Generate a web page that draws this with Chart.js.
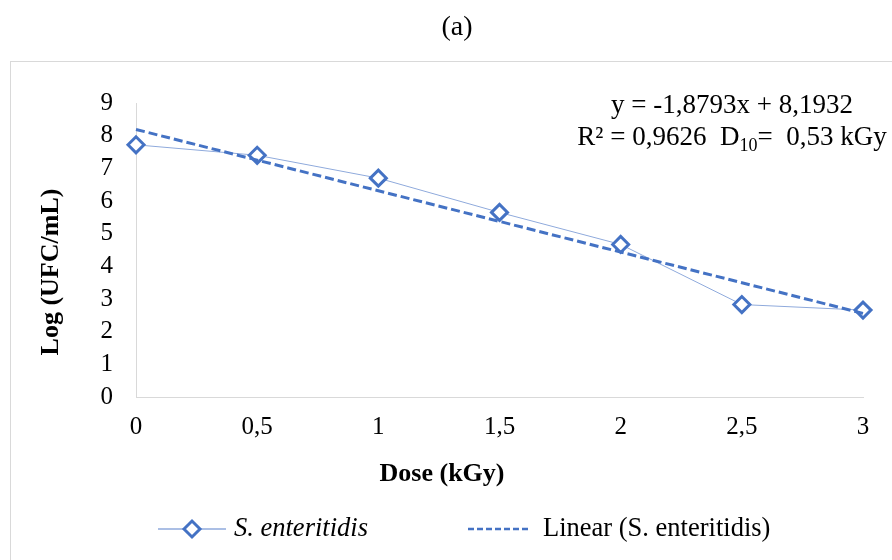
<!DOCTYPE html>
<html>
<head>
<meta charset="utf-8">
<script src="https://cdn.jsdelivr.net/npm/chart.js@4.4.1/dist/chart.umd.min.js"></script>
<style>
  html, body { margin: 0; padding: 0; background: #ffffff; overflow: hidden; }
  #wrap { width: 892px; height: 560px; position: relative; }
</style>
</head>
<body>
<div id="wrap"><canvas id="chart" width="892" height="560"></canvas></div>
<script>
// ---- Data ----
const doses = [0, 0.5, 1, 1.5, 2, 2.5, 3];                 // kGy
const logUfc = [7.72, 7.40, 6.70, 5.65, 4.67, 2.83, 2.66];  // Log (UFC/mL)
const trendDoses = [0, 3];                                  // trendline end points (x)
const trendLog = [8.19, 2.56];                              // trendline end points (y)
const xTickLabels = ['0', '0,5', '1', '1,5', '2', '2,5', '3'];
const yTickValues = [0, 1, 2, 3, 4, 5, 6, 7, 8, 9];
const seriesName = 'S. enteritidis';
const trendName = 'Linear (S. enteritidis)';
const chartTitle = '(a)';
const xTitle = 'Dose (kGy)';
const yTitle = 'Log (UFC/mL)';
const equationLine1 = 'y = -1,8793x + 8,1932';
const equationLine2 = ['R\u00B2 = 0,9626  D', '10', '=  0,53 kGy'];

const SERIF = "'Liberation Serif', 'Times New Roman', serif";
const MARKER = '#4472C4';
const THIN = '#8FAADC';
const AXIS = '#D9D9D9';

Chart.defaults.font.family = SERIF;
Chart.defaults.color = '#000000';

const outerBorder = {
  id: 'outerBorder',
  beforeDraw(chart) {
    const ctx = chart.ctx;
    ctx.save();
    ctx.strokeStyle = AXIS;
    ctx.lineWidth = 1;
    ctx.strokeRect(10.5, 61.5, 900, 520);
    ctx.restore();
  }
};

const titles = {
  id: 'titles',
  afterDraw(chart) {
    const ctx = chart.ctx;
    ctx.save();
    ctx.fillStyle = '#000';
    ctx.textAlign = 'center';
    ctx.textBaseline = 'middle';
    ctx.font = '28px ' + SERIF;
    ctx.fillText(chartTitle, 457, 28);
    ctx.font = 'bold 26px ' + SERIF;
    ctx.fillText(xTitle, 442, 474);
    ctx.translate(51, 272);
    ctx.rotate(-Math.PI / 2);
    ctx.fillText(yTitle, 0, 0);
    ctx.restore();
  }
};

const equationText = {
  id: 'equationText',
  afterDraw(chart) {
    const ctx = chart.ctx;
    const cx = 732;
    ctx.save();
    ctx.fillStyle = '#000';
    ctx.textBaseline = 'middle';
    const big = '27px ' + SERIF, small = '18px ' + SERIF;
    ctx.font = big;
    ctx.textAlign = 'center';
    ctx.fillText(equationLine1, cx, 106);
    ctx.font = big; const w1 = ctx.measureText(equationLine2[0]).width;
    ctx.font = small; const w2 = ctx.measureText(equationLine2[1]).width;
    ctx.font = big; const w3 = ctx.measureText(equationLine2[2]).width;
    let x = cx - (w1 + w2 + w3) / 2;
    ctx.textAlign = 'left';
    ctx.font = big; ctx.fillText(equationLine2[0], x, 138); x += w1;
    ctx.font = small; ctx.fillText(equationLine2[1], x, 146); x += w2;
    ctx.font = big; ctx.fillText(equationLine2[2], x, 138);
    ctx.restore();
  }
};

const customLegend = {
  id: 'customLegend',
  afterDraw(chart) {
    const ctx = chart.ctx;
    const ds = chart.data.datasets;
    const y = 529;
    ctx.save();
    // item 1: thin line with hollow diamond
    ctx.strokeStyle = ds[0].borderColor;
    ctx.lineWidth = 1.5;
    ctx.beginPath(); ctx.moveTo(158, y); ctx.lineTo(226, y); ctx.stroke();
    ctx.beginPath();
    ctx.moveTo(192 - 8, y); ctx.lineTo(192, y - 8); ctx.lineTo(192 + 8, y); ctx.lineTo(192, y + 8); ctx.closePath();
    ctx.fillStyle = '#fff'; ctx.fill();
    ctx.strokeStyle = ds[0].pointBorderColor; ctx.lineWidth = 3; ctx.stroke();
    ctx.fillStyle = '#000';
    ctx.textBaseline = 'middle';
    ctx.textAlign = 'left';
    ctx.font = 'italic 26.5px ' + SERIF;
    ctx.fillText(ds[0].label, 234, y);
    // item 2: dashed line
    ctx.strokeStyle = ds[1].borderColor;
    ctx.lineWidth = 2.5;
    ctx.setLineDash([6, 3]);
    ctx.beginPath(); ctx.moveTo(468, y); ctx.lineTo(529, y); ctx.stroke();
    ctx.setLineDash([]);
    ctx.font = '26.5px ' + SERIF;
    ctx.fillText(ds[1].label, 543, y);
    ctx.restore();
  }
};

new Chart(document.getElementById('chart'), {
  type: 'line',
  data: {
    datasets: [
      {
        label: seriesName,
        data: doses.map((d, i) => ({ x: d, y: logUfc[i] })),
        borderColor: THIN,
        borderWidth: 1,
        pointStyle: 'rectRot',
        pointRadius: 8,
        pointBorderWidth: 3,
        pointBorderColor: MARKER,
        pointBackgroundColor: '#ffffff',
        tension: 0,
        fill: false,
        clip: false,
        order: 2
      },
      {
        label: trendName,
        data: trendDoses.map((d, i) => ({ x: d, y: trendLog[i] })),
        borderColor: MARKER,
        borderWidth: 3,
        borderDash: [9, 4],
        pointRadius: 0,
        tension: 0,
        fill: false,
        clip: false,
        order: 1
      }
    ]
  },
  options: {
    responsive: false,
    animation: false,
    layout: { padding: { left: 20, right: 29, top: 103, bottom: 70 } },
    plugins: {
      legend: { display: false },
      tooltip: { enabled: false },
      title: { display: false }
    },
    scales: {
      x: {
        type: 'linear',
        min: 0,
        max: 3,
        afterBuildTicks: (s) => { s.ticks = doses.map(v => ({ value: v })); },
        afterFit: (s) => { s.height = 93; },
        ticks: {
          autoSkip: false,
          maxRotation: 0,
          padding: 15,
          color: '#000',
          font: { size: 25 },
          callback: (v, i) => xTickLabels[i]
        },
        grid: { display: false, drawTicks: false },
        border: { display: true, color: AXIS, width: 1 },
        title: { display: false, text: xTitle }
      },
      y: {
        type: 'linear',
        position: 'left',
        min: 0,
        max: 9,
        afterBuildTicks: (s) => { s.ticks = yTickValues.map(v => ({ value: v })); },
        afterFit: (s) => { s.width = 116; },
        ticks: {
          autoSkip: false,
          padding: 23,
          color: '#000',
          font: { size: 25 }
        },
        grid: { display: false, drawTicks: false },
        border: { display: true, color: AXIS, width: 1 },
        title: { display: false, text: yTitle }
      }
    }
  },
  plugins: [outerBorder, titles, equationText, customLegend]
});
</script>
</body>
</html>
